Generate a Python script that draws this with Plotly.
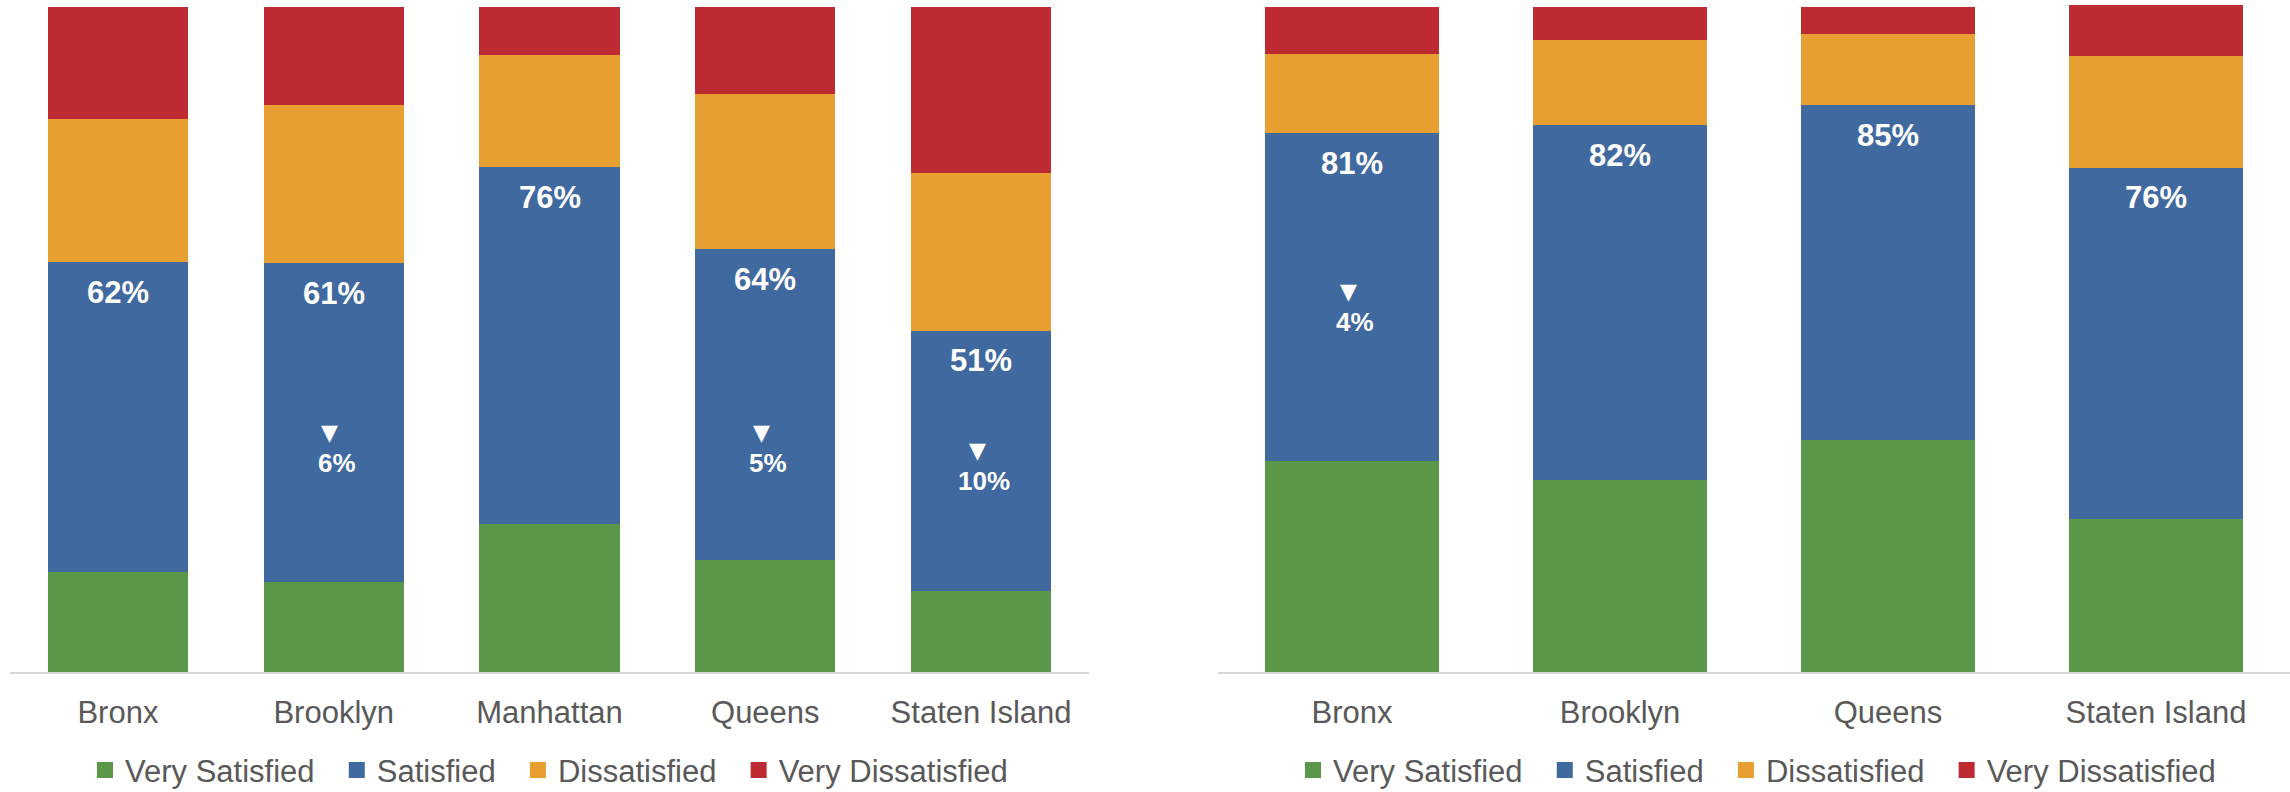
import plotly.graph_objects as go

# ---------------- data ----------------
series_names = ["Very Satisfied", "Satisfied", "Dissatisfied", "Very Dissatisfied"]

left_categories = ["Bronx", "Brooklyn", "Manhattan", "Queens", "Staten Island"]
left_very_satisfied = [15.0, 13.6, 22.3, 16.9, 12.2]
left_satisfied = [46.6, 47.9, 53.6, 46.7, 39.1]
left_dissatisfied = [21.5, 23.7, 16.9, 23.3, 23.7]
left_very_dissatisfied = [16.9, 14.8, 7.2, 13.1, 25.0]
left_total_label = ["62%", "61%", "76%", "64%", "51%"]
left_change_label = [None, "6%", None, "5%", "10%"]

right_categories = ["Bronx", "Brooklyn", "Queens", "Staten Island"]
right_very_satisfied = [31.7, 28.9, 34.9, 23.0]
right_satisfied = [49.3, 53.3, 50.3, 52.8]
right_dissatisfied = [11.9, 12.9, 10.7, 16.9]
right_very_dissatisfied = [7.1, 4.9, 4.1, 7.6]
right_total_label = ["81%", "82%", "85%", "76%"]
right_change_label = ["4%", None, None, None]

# ---------------- layout / style ----------------
colors = ["#5B9748", "#4069A0", "#E79F31", "#BE2A32"]
left_change_pos = [None, 31.4, None, 31.4, 28.7]     # data-y of the change numbers
right_change_pos = [52.6, None, None, None]
legend_pad = ["\u00a0\u00a0", "\u00a0\u00a0", "\u00a0\u00a0", ""]
FONT = "Liberation Sans, Arial, sans-serif"
GREY = "#595959"
W, H = 2290, 792

fig = go.Figure()

left_series = [left_very_satisfied, left_satisfied, left_dissatisfied, left_very_dissatisfied]
right_series = [right_very_satisfied, right_satisfied, right_dissatisfied, right_very_dissatisfied]

for name, vals, col in zip(series_names, left_series, colors):
    fig.add_trace(go.Bar(x=left_categories, y=vals, name=name, marker_color=col,
                         marker_line_width=0, xaxis="x", yaxis="y", showlegend=False,
                         hoverinfo="x+y+name"))
for name, vals, col in zip(series_names, right_series, colors):
    fig.add_trace(go.Bar(x=right_categories, y=vals, name=name, marker_color=col,
                         marker_line_width=0, xaxis="x2", yaxis="y2", showlegend=False,
                         hoverinfo="x+y+name"))

# legend entries (square swatches)
for leg, xa, ya in (("legend", "x", "y"), ("legend2", "x2", "y2")):
    for name, col, pad in zip(series_names, colors, legend_pad):
        fig.add_trace(go.Scatter(x=[None], y=[None], mode="markers", name=name + pad,
                                 marker=dict(symbol="square", size=16, color=col),
                                 xaxis=xa, yaxis=ya, legend=leg, showlegend=True,
                                 hoverinfo="skip"))

annotations = []

def add_labels(cats, vs, s, totals, changes, change_pos, xref, yref):
    for i, c in enumerate(cats):
        annotations.append(dict(x=c, y=vs[i] + s[i], xref=xref, yref=yref, text=totals[i],
                                showarrow=False, yanchor="middle", yshift=-30,
                                font=dict(family=FONT, size=31, color="white", weight="bold")))
        if changes[i] is not None:
            annotations.append(dict(x=c, y=change_pos[i], xref=xref, yref=yref, text=changes[i],
                                    showarrow=False, yanchor="middle", xshift=3,
                                    font=dict(family=FONT, size=26, color="white", weight="bold")))
            annotations.append(dict(x=c, y=change_pos[i], xref=xref, yref=yref, text="▼",
                                    showarrow=False, yanchor="middle", yshift=31, xshift=-4,
                                    font=dict(family="DejaVu Sans", size=22, color="white")))

add_labels(left_categories, left_very_satisfied, left_satisfied, left_total_label,
           left_change_label, left_change_pos, "x", "y")
add_labels(right_categories, right_very_satisfied, right_satisfied, right_total_label,
           right_change_label, right_change_pos, "x2", "y2")

xcommon = dict(showline=True, linecolor="#D9D9D9", linewidth=2, showgrid=False,
               ticks="outside", ticklen=12, tickcolor="rgba(0,0,0,0)",
               tickfont=dict(family=FONT, size=31, color=GREY), fixedrange=True)
ycommon = dict(visible=False, range=[0, 100.3], fixedrange=True)

legcommon = dict(orientation="h", xref="container", yref="paper", y=-0.188,
                 yanchor="bottom", xanchor="center", traceorder="normal",
                 font=dict(family=FONT, size=31, color=GREY), bgcolor="rgba(0,0,0,0)",
                 itemclick=False, itemdoubleclick=False)

fig.update_layout(
    width=W, height=H,
    margin=dict(l=0, r=0, t=5, b=120, autoexpand=False),
    barmode="stack",
    plot_bgcolor="white", paper_bgcolor="white",
    showlegend=True,
    xaxis=dict(domain=[10 / W, 1089 / W], anchor="y", **xcommon),
    yaxis=dict(domain=[0, 1], anchor="x", **ycommon),
    xaxis2=dict(domain=[1218 / W, 1.0], anchor="y2", **xcommon),
    yaxis2=dict(domain=[0, 1], anchor="x2", **ycommon),
    bargap=0.35,
    legend=dict(x=549 / W, **legcommon),
    legend2=dict(x=1757 / W, **legcommon),
    annotations=annotations,
)

fig.write_html("out.html", config={"displayModeBar": False},
               post_script="document.body.style.margin='0';")
